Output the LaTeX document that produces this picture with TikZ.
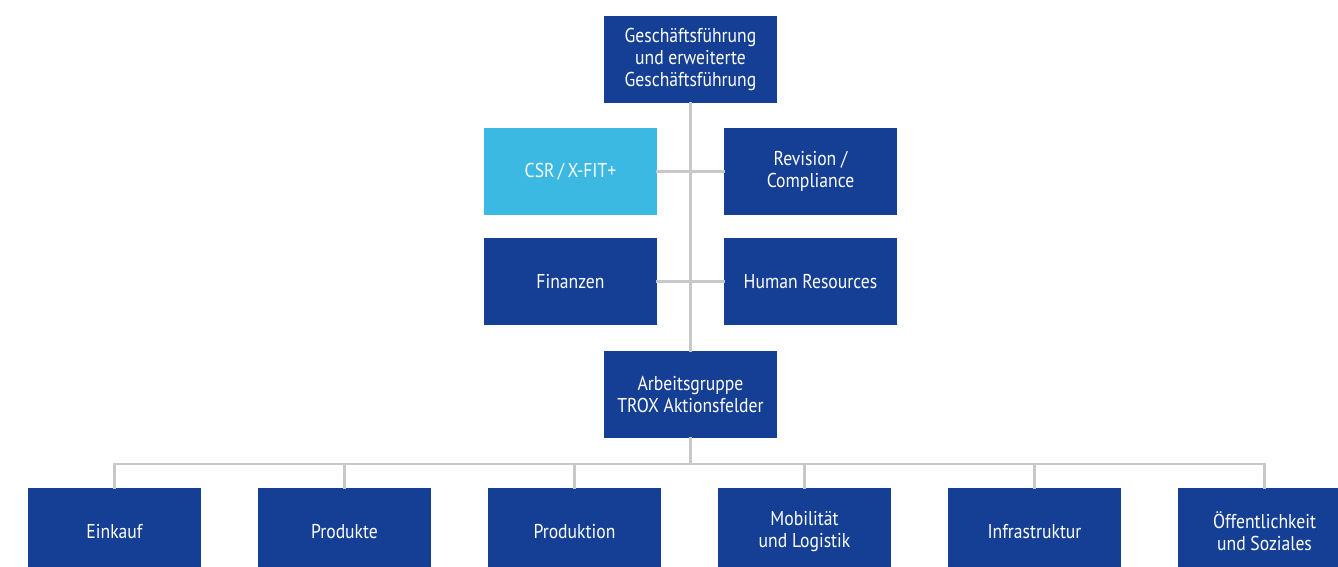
\documentclass[tikz,border=0pt]{standalone}
\usepackage{fontspec}
\setmainfont[FakeStretch=0.88]{PT Sans}
\usepackage{tikz}
\definecolor{troxblau}{HTML}{153F94}
\definecolor{troxhell}{HTML}{3BB9E2}
\definecolor{liniegrau}{HTML}{C8C8C8}
\begin{document}
\begin{tikzpicture}[line cap=rect,line join=miter,x=0.02cm,y=-0.02cm,
box/.style={fill=troxblau,text=white,minimum width=3.46cm,minimum height=1.74cm,
inner sep=0pt,align=center,font=\fontsize{11.4}{12.4}\selectfont},
hellbox/.style={box,fill=troxhell},
linie/.style={draw=liniegrau,line width=1.6pt}]
% Rahmen und Ausschnitt
\useasboundingbox (0,0) rectangle (1338,567);
\clip (0,0) rectangle (1338,567);
% Kästen oben
\node[box] (gf) at (690.5,59.5) {Geschäftsführung\\und erweiterte\\Geschäftsführung};
\node[hellbox] (csr) at (570.5,171.5) {CSR\,/\,X-FIT+};
\node[box] (rev) at (810.5,171.5) {Revision /\\Compliance};
\node[box] (fin) at (570.5,281.5) {Finanzen};
\node[box] (hr) at (810.5,281.5) {Human Resources};
\node[box] (ag) at (690.5,394.5) {Arbeitsgruppe\\TROX Aktionsfelder};
\coordinate (bus) at (690.5,464);
% Aktionsfelder unten
\foreach \name/\x/\text in {ein/114.5/Einkauf,pro/344.5/Produkte,
prd/574.5/Produktion,mob/804.5/Mobilität\\und Logistik,
inf/1034.5/Infrastruktur,oef/1264.5/Öffentlichkeit\\und Soziales}
\node[box] (\name) at (\x,531.5) {\text};
%Linien
\begin{scope}[on background layer/.try]
\draw[linie] (gf.south) -- (ag.north);
\draw[linie] (csr.east) -- (rev.west);
\draw[linie] (fin.east) -- (hr.west);
\draw[linie] (ag.south) -- (bus);
\foreach \name in {ein,pro,prd,mob,inf,oef}
\draw[linie] (\name.north) |- (bus);
\end{scope}
\end{tikzpicture}
\end{document}
